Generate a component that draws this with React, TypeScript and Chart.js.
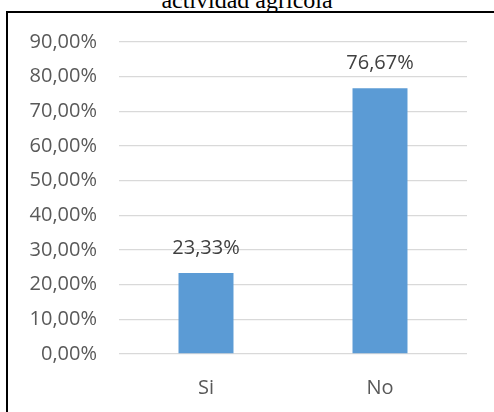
import React, { useEffect, useRef } from "react";
import { Chart, registerables } from "chart.js";

Chart.register(...registerables);

const titleText = "actividad agrícola";
const categories = ["Si", "No"];
const values = [23.33, 76.67];
const yMin = 0;
const yMax = 90;
const yStep = 10;

const fmt = (v: number) => v.toFixed(2).replace(".", ",") + "%";

const FONT = "'Open Sans', 'Noto Sans', sans-serif";

const valueLabels = {
  id: "valueLabels",
  afterDatasetsDraw(chart: any) {
    const ctx = chart.ctx;
    const meta = chart.getDatasetMeta(0);
    ctx.save();
    ctx.fillStyle = "#404040";
    ctx.font = `20px ${FONT}`;
    ctx.textAlign = "center";
    ctx.textBaseline = "middle";
    meta.data.forEach((el: any, i: number) => {
      ctx.fillText(fmt(values[i]), el.x, el.y - 25);
    });
    ctx.restore();
  },
};

export default function App() {
  const ref = useRef<HTMLCanvasElement>(null);
  useEffect(() => {
    if (!ref.current) return;
    const chart = new Chart(ref.current, {
      type: "bar",
      data: {
        labels: categories,
        datasets: [
          {
            data: values,
            backgroundColor: "#5b9bd5",
            borderWidth: 0,
            barPercentage: 0.316,
            categoryPercentage: 1,
          },
        ],
      },
      options: {
        animation: false,
        responsive: false,
        devicePixelRatio: 1,
        layout: { padding: { left: 0, right: 27, top: 29, bottom: 0 } },
        plugins: {
          legend: { display: false },
          tooltip: { enabled: false },
          title: { display: false },
        },
        scales: {
          x: {
            grid: { display: false, drawTicks: false },
            border: { display: false },
            ticks: {
              color: "#595959",
              font: { family: FONT, size: 20 },
              padding: 22,
            },
            afterFit: (s: any) => {
              s.height = 58;
            },
          },
          y: {
            min: yMin,
            max: yMax,
            grid: {
              color: "#d9d9d9",
              lineWidth: 1.3,
              drawTicks: true,
              tickLength: 22,
              tickColor: "rgba(0,0,0,0)",
            },
            border: { display: false },
            ticks: {
              stepSize: yStep,
              color: "#595959",
              font: { family: FONT, size: 20 },
              padding: 0,
              callback: (v: any) => fmt(Number(v)),
            },
            afterFit: (s: any) => {
              s.width = 111;
            },
          },
        },
      },
      plugins: [valueLabels],
    });
    return () => chart.destroy();
  }, []);

  return (
    <div
      style={{
        position: "fixed",
        left: 0,
        top: 0,
        width: 494,
        height: 412,
        overflow: "hidden",
        background: "#fff",
      }}
    >
      <div
        style={{
          position: "absolute",
          left: 0,
          width: 494,
          top: -12,
          textAlign: "center",
          fontFamily: "'Liberation Serif', 'Times New Roman', serif",
          fontSize: 24,
          lineHeight: "24px",
          color: "#000",
          whiteSpace: "nowrap",
        }}
      >
        {titleText}
      </div>
      <div
        style={{
          position: "absolute",
          left: 6,
          top: 11,
          width: 600,
          height: 500,
          border: "2px solid #000",
          boxSizing: "border-box",
        }}
      />
      <canvas
        ref={ref}
        width={486}
        height={399}
        style={{ position: "absolute", left: 8, top: 13, width: 486, height: 399 }}
      />
    </div>
  );
}
